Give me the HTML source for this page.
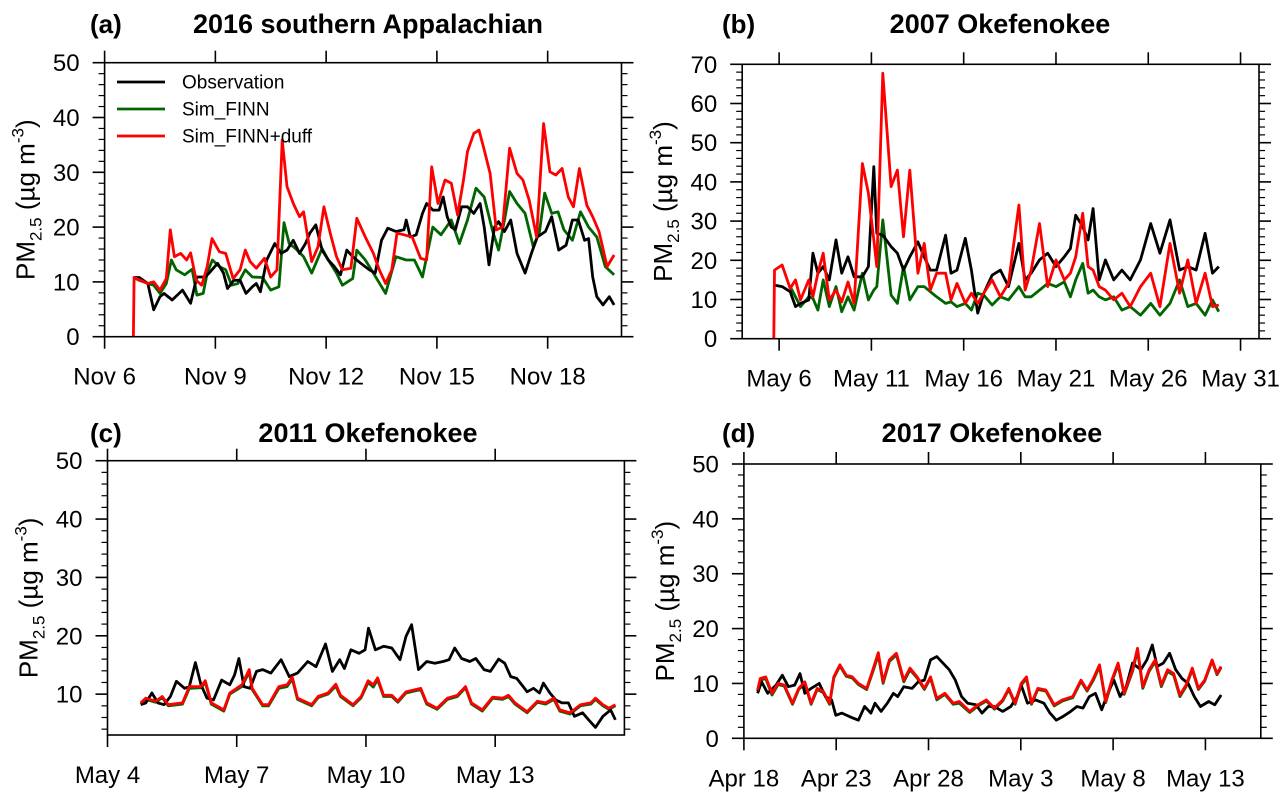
<!DOCTYPE html>
<html><head><meta charset="utf-8"><style>
html,body{margin:0;padding:0;background:#fff;}
svg{display:block;font-family:"Liberation Sans",sans-serif;}
</style></head><body>
<svg id="chart" width="1283" height="801" viewBox="0 0 1283 801" xmlns="http://www.w3.org/2000/svg"></svg>
<script>
// ---- Panel (a) 2016 southern Appalachian (x = day of November) ----
const aObsX=[6.78,6.94,7.17,7.33,7.5,7.61,7.83,8.11,8.33,8.5,8.72,8.83,9.06,9.22,9.33,9.5,9.67,9.83,10.0,10.11,10.22,10.39,10.61,10.78,10.94,11.11,11.28,11.44,11.56,11.72,11.89,12.06,12.22,12.39,12.56,12.72,12.94,13.17,13.33,13.5,13.67,13.89,14.11,14.17,14.28,14.44,14.61,14.72,14.89,15.06,15.17,15.28,15.39,15.5,15.67,15.83,16.0,16.17,16.28,16.41,16.56,16.67,16.83,17.0,17.17,17.39,17.56,17.72,17.94,18.11,18.3,18.5,18.67,18.83,19.0,19.11,19.22,19.33,19.5,19.67,19.8];
const aObs=[10.8,10.8,9.7,4.9,7.3,7.9,6.7,8.5,6.1,10.9,10.9,11.6,13.4,11.6,8.8,10.3,10.3,7.9,9.1,9.7,8.2,14,17,15.2,15.8,17.6,15.2,17,18.9,20.4,15.8,14,12.8,11.3,15.8,14.6,13.4,12.2,11.6,17.6,19.8,19.2,19.5,21.3,18.2,18.6,22.5,24.3,23.1,23.1,25.5,21.9,20,19.5,23.7,23.7,22.5,24.3,20,13.1,20,21,19.2,21.3,15.2,11.6,15.2,18.2,19.2,21.9,15.8,16.7,21.3,21.3,17.6,17.9,10.9,7.3,5.8,7.3,5.8];
const aFinnX=[6.78,6.94,7.17,7.33,7.5,7.67,7.81,7.94,8.17,8.37,8.5,8.67,8.78,8.92,9.11,9.28,9.44,9.61,9.81,10.0,10.28,10.5,10.72,10.86,11.0,11.17,11.39,11.61,11.89,12.06,12.28,12.44,12.72,12.83,13.06,13.28,13.61,13.89,14.17,14.39,14.61,14.89,15.11,15.39,15.61,15.83,16.06,16.28,16.5,16.67,16.83,16.97,17.17,17.39,17.61,17.78,17.92,18.11,18.28,18.44,18.67,18.89,19.11,19.33,19.56,19.8];
const aFinn=[10.8,10.3,9.7,9.4,7.9,9.7,14,12.2,11.3,12.3,7.6,7.9,11.6,14,12.8,12.2,9.4,9.7,12.2,10.9,10.8,8.5,9.1,20.8,17,16.1,14.6,11.6,16.1,14,11.6,9.4,10.6,15.8,14,11.6,7.9,14.6,14,14,10.9,20,18.6,21.3,17,21.3,27.1,25.5,19.5,15.8,21.3,26.5,24.3,22.5,16.4,19.2,26.2,22.5,22.8,19.5,17.6,22.8,20,18.2,12.8,11.3];
const aDuffX=[6.78,6.8,6.97,7.17,7.33,7.5,7.67,7.78,7.89,8.06,8.22,8.33,8.48,8.63,8.78,8.91,9.11,9.28,9.48,9.67,9.81,9.94,10.11,10.33,10.5,10.67,10.81,10.94,11.11,11.28,11.39,11.61,11.78,11.94,12.11,12.28,12.44,12.67,12.83,13.06,13.28,13.44,13.61,13.78,13.92,14.11,14.33,14.56,14.72,14.86,15.03,15.22,15.39,15.56,15.72,15.83,16.0,16.14,16.28,16.44,16.61,16.78,16.97,17.17,17.33,17.5,17.7,17.89,18.06,18.22,18.39,18.56,18.7,18.86,19.06,19.22,19.39,19.61,19.8];
const aDuff=[0,10.8,10.3,9.7,10,8.5,10.6,19.5,14.6,15.2,14,15.3,10.3,9.4,12.8,17.9,15.5,15.2,10.6,12.2,15.8,13.7,12.5,14.3,10.9,12.2,35.9,27.4,24.3,21.9,22.8,13.7,16.4,23.7,18.9,14.6,12.2,12.5,21.6,18.2,15.2,12.2,9.7,12.2,18.9,18.6,18.2,14.3,14,31,24.3,28.6,28,22.2,28.6,33.8,37.1,37.7,34.1,29.8,19.5,20,34.4,29.8,28.6,24.9,18.2,38.9,30.1,29.5,30.7,25.5,23.7,30.7,24,21.9,19.2,12.8,14.9];
// ---- Panel (b) 2007 Okefenokee (x = day of May) ----
const bObsX=[5.71,6.16,6.6,6.89,7.16,7.61,7.83,8.1,8.39,8.72,9.08,9.39,9.73,10.06,10.51,10.84,11.13,11.29,11.62,12.07,12.41,12.74,13.08,13.52,13.86,14.19,14.53,15.02,15.31,15.64,16.09,16.42,16.76,17.09,17.54,17.99,18.43,18.99,19.33,19.66,20.11,20.55,21.0,21.45,21.78,22.07,22.45,22.74,23.01,23.34,23.68,24.13,24.57,25.02,25.58,26.13,26.63,27.18,27.7,28.14,28.59,29.08,29.48,29.82];
const bObs=[13.7,13.3,12,8.2,9,9.9,21.8,16.7,18.4,15,25.2,16.7,20.9,15.8,15.8,18.4,43.9,26.9,26.4,23.5,21.8,17.5,20.9,24.7,20.9,17.5,17.5,26.4,16.7,17.5,25.6,17.5,6.5,11.6,16.2,17.5,13.3,24.3,15,16.7,20.1,21.8,18.4,20.9,23,31.5,28.6,25.2,33.2,15,20.1,15,17.5,15,20.1,29.4,21.8,30.3,17.5,18.4,17.5,26.9,16.7,18.4];
const bFinnX=[6.6,6.89,7.16,7.61,7.83,8.1,8.39,8.72,9.08,9.39,9.73,10.06,10.51,10.84,11.13,11.29,11.62,12.07,12.41,12.74,13.08,13.52,13.86,14.19,14.53,15.02,15.31,15.64,16.09,16.42,16.76,17.09,17.54,17.99,18.43,18.99,19.33,19.66,20.11,20.55,21.0,21.45,21.78,22.07,22.45,22.74,23.01,23.34,23.68,24.13,24.57,25.02,25.58,26.13,26.63,27.18,27.7,28.14,28.59,29.08,29.48,29.82];
const bFinn=[13.3,10.7,8.2,10.7,10.3,7.3,15,8.2,13.3,6.9,10.7,7.3,16.7,9.9,12.4,13.3,30.3,11.1,9,18.4,9.9,13.3,13.3,12,10.7,9,9.4,8.2,9,7.3,11.6,11.1,8.6,10.7,9.9,13.3,10.7,10.7,12.4,14.1,13.3,14.5,10.7,15,19.2,11.6,12.4,10.7,9.9,10.7,7.3,8.2,6,9,6,9,15,8.2,9,6,9.9,6.9];
const bDuffX=[5.71,5.75,6.16,6.6,6.89,7.16,7.61,7.83,8.1,8.39,8.72,9.08,9.39,9.73,10.06,10.51,10.84,11.13,11.29,11.62,12.07,12.41,12.74,13.08,13.52,13.86,14.19,14.53,15.02,15.31,15.64,16.09,16.42,16.76,17.09,17.54,17.99,18.43,18.99,19.33,19.66,20.11,20.55,21.0,21.45,21.78,22.07,22.45,22.74,23.01,23.34,23.68,24.13,24.57,25.02,25.58,26.13,26.63,27.18,27.7,28.14,28.59,29.08,29.48,29.82];
const bDuff=[0,17.5,18.8,12.8,15,9.9,15,10.7,16.7,21.8,9.9,12.4,9.4,14.5,9,44.7,37.1,25.2,18.4,67.7,38.8,43,26,43,16.7,24.3,12.4,16.7,16.7,9.9,14.1,9,11.6,9,11.6,15,10.7,14.1,34.1,12.4,17.5,29.4,13.3,20.1,15,16.7,20.9,32,18.4,17.5,13.3,12.4,9.9,11.6,8.2,13.3,16.7,8.2,24.3,11.6,20.1,9,16.7,8.2,8.6];
// ---- Panel (c) 2011 Okefenokee (x = day of May) ----
const cObsX=[4.77,4.89,5.03,5.17,5.31,5.46,5.6,5.79,5.9,6.04,6.17,6.31,6.46,6.65,6.84,6.95,7.05,7.17,7.31,7.46,7.6,7.79,8.03,8.22,8.41,8.65,8.84,9.06,9.22,9.39,9.5,9.65,9.84,9.98,10.06,10.22,10.41,10.6,10.79,10.93,11.06,11.22,11.41,11.6,11.79,11.93,12.06,12.22,12.41,12.55,12.74,12.89,13.08,13.22,13.36,13.5,13.65,13.74,13.89,14.03,14.12,14.27,14.41,14.55,14.7,14.84,15.03,15.17,15.33,15.5,15.68,15.79];
const cObs=[8.2,8.5,10.2,8.5,8.2,9.6,12.2,11,11.3,15.4,11.6,9.3,9,12.4,11.6,13.3,16.1,11.3,11,13.9,14.2,13.6,15.9,13,13.6,15.6,14.7,18.6,13.9,15.9,14.4,17.6,17,17.6,21.3,17.6,18.2,17.9,15.9,19.9,21.9,14.2,15.6,15.3,15.6,15.9,17.9,16.1,15.6,16.1,14.2,13.9,16,15.3,13,12.7,11.3,10.4,11,10.2,11.9,10.2,9,8.5,8.5,6.2,6.8,5.6,4.3,6.2,7.3,5.6];
const cFinnX=[4.77,4.89,5.12,5.27,5.41,5.74,5.9,6.17,6.27,6.41,6.7,6.84,7.12,7.29,7.36,7.6,7.74,7.98,8.17,8.29,8.41,8.74,8.89,9.12,9.3,9.41,9.7,9.89,10.05,10.17,10.27,10.41,10.6,10.74,10.93,11.27,11.41,11.65,11.89,12.12,12.31,12.45,12.7,12.94,13.17,13.31,13.46,13.74,13.98,14.17,14.36,14.5,14.74,14.98,15.22,15.33,15.5,15.64,15.79];
const cFinn=[8.3,9.1,8.6,9.4,8.0,8.3,11.0,11.1,12.0,8.3,7.1,10.0,11.3,13.8,10.8,8.0,8.0,11.0,11.3,12.6,9.1,8.0,9.4,10.0,11.4,9.6,8.0,9.4,12.0,11.2,12.5,9.6,9.6,8.6,10.2,10.8,8.3,7.4,9.1,9.6,11.1,8.3,7.1,9.3,9.1,9.6,8.3,6.8,8.6,8.3,9.1,7.1,6.6,8.0,8.3,9.1,8.0,7.4,8.0];
const cDuffX=[4.77,4.89,5.12,5.27,5.41,5.74,5.9,6.17,6.27,6.41,6.7,6.84,7.12,7.29,7.36,7.6,7.74,7.98,8.17,8.29,8.41,8.74,8.89,9.12,9.3,9.41,9.7,9.89,10.05,10.17,10.27,10.41,10.6,10.74,10.93,11.27,11.41,11.65,11.89,12.12,12.31,12.45,12.7,12.94,13.17,13.31,13.46,13.74,13.98,14.17,14.36,14.5,14.74,14.98,15.22,15.33,15.5,15.64,15.79];
const cDuff=[8.5,9.3,8.8,9.6,8.2,8.5,11.3,11.3,12.3,8.5,7.3,10.2,11.6,14.2,11,8.2,8.2,11.3,11.6,12.9,9.3,8.2,9.6,10.2,11.7,9.8,8.2,9.6,12.3,11.6,12.8,9.8,9.8,8.8,10.4,11,8.5,7.6,9.3,9.8,11.3,8.5,7.3,9.5,9.3,9.8,8.5,7,8.8,8.5,9.3,7.3,6.8,8.2,8.5,9.3,8.2,7.6,8.2];
// ---- Panel (d) 2017 Okefenokee (x = days since Apr 18) ----
const dObsX=[0.74,0.96,1.29,1.74,2.08,2.41,2.75,3.04,3.3,3.64,4.08,4.42,4.75,4.98,5.31,5.76,6.2,6.54,6.88,7.1,7.43,7.77,8.1,8.33,8.66,9.11,9.44,9.78,10.11,10.45,10.78,11.12,11.45,11.79,12.12,12.57,12.9,13.24,13.57,14.02,14.46,14.8,15.02,15.36,15.8,16.25,16.58,16.92,17.25,17.7,18.04,18.37,18.71,19.04,19.38,19.71,20.04,20.38,20.71,21.05,21.5,21.83,22.12,22.39,22.72,23.06,23.39,23.73,24.06,24.4,24.73,25.18,25.51,25.85];
const dObs=[8.2,10.3,8.2,9.7,11.5,9.4,9.7,11.8,8.2,9.1,10,7.6,7,4.2,4.6,3.9,3.3,5.8,4.6,6.4,4.9,6.4,8.2,7.6,9.4,9.1,10.3,10.6,14.3,14.9,13.7,12.5,10.6,7.6,6.4,6.1,4.6,5.8,5.8,4.9,5.8,7.6,9.7,6.4,7,6.4,4.6,3.3,3.9,4.9,5.8,5.5,7.6,8.2,5.2,8.2,10.6,7.6,9.4,13.7,12.5,14.3,17,13.1,13.7,15.5,12.5,10.9,10,7.6,5.8,6.7,6.1,7.9];
const dFinnX=[0.74,0.89,1.18,1.52,1.85,2.19,2.63,2.97,3.3,3.64,3.97,4.31,4.64,4.87,5.2,5.54,5.87,6.2,6.65,6.99,7.28,7.54,7.88,8.26,8.66,9.0,9.38,9.78,10.11,10.45,10.89,11.34,11.67,12.23,12.68,13.13,13.57,14.02,14.35,14.69,15.02,15.31,15.58,15.92,16.36,16.81,17.25,17.81,18.26,18.59,18.93,19.26,19.6,19.93,20.27,20.6,21.05,21.32,21.61,21.95,22.28,22.61,22.95,23.28,23.62,23.95,24.29,24.62,24.96,25.36,25.63,25.85];
const dFinn=[8.6,10.6,10.9,7.9,9.8,9.5,6.2,8.9,10.0,6.2,8.9,8.3,6.2,11.0,13.2,11.3,11.0,9.8,8.9,12.2,15.2,10.0,14.0,15.2,10.3,12.5,11.0,8.9,11.0,7.0,8.0,6.2,6.4,4.7,5.9,6.8,5.3,6.8,8.9,6.2,9.7,10.9,6.2,8.9,8.6,5.9,6.8,7.4,10.4,8.6,10.6,13.1,6.5,10.3,13.4,8.0,12.2,16.0,9.1,12.2,14.0,9.4,12.2,11.5,7.6,9.4,12.5,8.9,10.4,14.1,11.6,12.9];
const dDuffX=[0.74,0.89,1.18,1.52,1.85,2.19,2.63,2.97,3.3,3.64,3.97,4.31,4.64,4.87,5.2,5.54,5.87,6.2,6.65,6.99,7.28,7.54,7.88,8.26,8.66,9.0,9.38,9.78,10.11,10.45,10.89,11.34,11.67,12.23,12.68,13.13,13.57,14.02,14.35,14.69,15.02,15.31,15.58,15.92,16.36,16.81,17.25,17.81,18.26,18.59,18.93,19.26,19.6,19.93,20.27,20.6,21.05,21.32,21.61,21.95,22.28,22.61,22.95,23.28,23.62,23.95,24.29,24.62,24.96,25.36,25.63,25.85];
const dDuff=[8.8,10.9,11.2,8.2,10,9.7,6.4,9.1,10.3,6.4,9.1,8.5,6.4,11.2,13.4,11.5,11.2,10,9.1,12.5,15.6,10.3,14.3,15.5,10.6,12.8,11.2,9.1,11.2,7.3,8.2,6.4,6.7,4.9,6.1,7,5.5,7,9.1,6.4,10,11.2,6.4,9.1,8.8,6.1,7,7.6,10.6,8.8,10.9,13.4,6.7,10.6,13.7,8.2,12.5,16.4,9.4,12.5,14.3,9.7,12.5,11.8,7.9,9.7,12.8,9.1,10.6,14.3,11.8,13.1];
// ---- axis tick labels ----
const aTickVals=[6,9,12,15,18], aTickLabels=["Nov 6","Nov 9","Nov 12","Nov 15","Nov 18"];
const bTickVals=[6,11,16,21,26,31], bTickLabels=["May 6","May 11","May 16","May 21","May 26","May 31"];
const cTickVals=[4,7,10,13], cTickLabels=["May 4","May 7","May 10","May 13"];
const dTickVals=[0,5,10,15,20,25], dTickLabels=["Apr 18","Apr 23","Apr 28","May 3","May 8","May 13"];
const yTicks50=[0,10,20,30,40,50], yTicks70=[0,10,20,30,40,50,60,70], yTicksC=[10,20,30,40,50];

const NS="http://www.w3.org/2000/svg";
const svg=document.getElementById('chart');
function mk(tag,attrs,parent){const e=document.createElementNS(NS,tag);for(const k in attrs)e.setAttribute(k,attrs[k]);(parent||svg).appendChild(e);return e;}

function panel(p){
  const g=mk('g',{});
  
  
  const sx=v=>p.x0+(v-p.xmin)/(p.xmax-p.xmin)*(p.x1-p.x0);
  const sy=v=>p.y1-(v-p.ymin)/(p.ymax-p.ymin)*(p.y1-p.y0);
  for(let v=Math.ceil(p.ymin/2)*2; v<=p.ymax; v+=2){
    if(v%10===0) continue;
    const y=sy(v);
    mk('line',{x1:p.x0-6,x2:p.x0,y1:y,y2:y,stroke:'#000','stroke-width':1.2},g);
    mk('line',{x1:p.x1,x2:p.x1+6,y1:y,y2:y,stroke:'#000','stroke-width':1.2},g);
  }
  p.yt.forEach(v=>{
    const y=sy(v);
    mk('line',{x1:p.x0-12,x2:p.x0,y1:y,y2:y,stroke:'#000','stroke-width':1.6},g);
    mk('line',{x1:p.x1,x2:p.x1+12,y1:y,y2:y,stroke:'#000','stroke-width':1.6},g);
    const t=mk('text',{x:p.x0-25,y:y+8.5,'text-anchor':'end','font-size':24},g);
    t.textContent=v;
    
    
  });
  p.xt.forEach((v,i)=>{
    const x=sx(v);
    mk('line',{x1:x,x2:x,y1:p.y1,y2:p.y1+12,stroke:'#000','stroke-width':1.6},g);
    mk('line',{x1:x,x2:x,y1:p.y0-12,y2:p.y0,stroke:'#000','stroke-width':1.6},g);
    const t=mk('text',{x:x,y:p.y1+48,'text-anchor':'middle','font-size':24},g);
    t.textContent=p.xl[i];
    
    
  });
  const series=[[p.fx,p.f,'#006400','sim-finn-line'],[p.ox,p.o,'#000','observation-line'],[p.dx,p.d,'#ff0000','sim-finn-duff-line']];
  series.forEach(s=>{
    const pts=s[0].map((xv,i)=>sx(xv).toFixed(1)+','+sy(s[1][i]).toFixed(1)).join(' ');
    const pl=mk('polyline',{points:pts,fill:'none',stroke:s[2],'stroke-width':2.8,'stroke-linejoin':'round'},g);
    
    
  });
  const fr=mk('rect',{x:p.x0,y:p.y0,width:p.x1-p.x0,height:p.y1-p.y0,fill:'none',stroke:'#000','stroke-width':1.6},g);
  
  
  const cy=(p.y0+p.y1)/2, tx=p.x0-70;
  const yt=mk('text',{x:tx,y:cy,'text-anchor':'middle','font-size':26,transform:`rotate(-90 ${tx} ${cy})`},g);
  
  
  yt.innerHTML='PM<tspan font-size="17" dy="7">2.5</tspan><tspan dy="-7"> (µg m</tspan><tspan font-size="17" dy="-11">-3</tspan><tspan dy="11">)</tspan>';
  const lab=mk('text',{x:p.labX,y:p.titleY,'font-size':26,'font-weight':'bold'},g);
  lab.textContent=p.lab;
  
  
  const ti=mk('text',{x:p.titleX,y:p.titleY,'font-size':27,'font-weight':'bold','text-anchor':'middle'},g);
  ti.textContent=p.title;
  
  
}

panel({id:'a',x0:104.6,x1:621.5,y0:62.7,y1:336.7,xmin:6,xmax:20,ymin:0,ymax:50,yt:yTicks50,xt:aTickVals,xl:aTickLabels,
  ox:aObsX,o:aObs,fx:aFinnX,f:aFinn,dx:aDuffX,d:aDuff,lab:'(a)',labX:90,titleX:368,titleY:33,title:'2016 southern Appalachian'});
panel({id:'b',x0:742.2,x1:1259,y0:64.3,y1:338.7,xmin:4,xmax:32,ymin:0,ymax:70,yt:yTicks70,xt:bTickVals,xl:bTickLabels,
  ox:bObsX,o:bObs,fx:bFinnX,f:bFinn,dx:bDuffX,d:bDuff,lab:'(b)',labX:722,titleX:1000,titleY:33,title:'2007 Okefenokee'});
panel({id:'c',x0:107.5,x1:624.4,y0:460.7,y1:735,xmin:4,xmax:16,ymin:3,ymax:50,yt:yTicksC,xt:cTickVals,xl:cTickLabels,
  ox:cObsX,o:cObs,fx:cFinnX,f:cFinn,dx:cDuffX,d:cDuff,lab:'(c)',labX:90,titleX:368,titleY:442,title:'2011 Okefenokee'});
panel({id:'d',x0:743.9,x1:1260.8,y0:464,y1:738.3,xmin:0,xmax:28,ymin:0,ymax:50,yt:yTicks50,xt:dTickVals,xl:dTickLabels,
  ox:dObsX,o:dObs,fx:dFinnX,f:dFinn,dx:dDuffX,d:dDuff,lab:'(d)',labX:722,titleX:992,titleY:442,title:'2017 Okefenokee'});

const legNames=['Observation','Sim_FINN','Sim_FINN+duff'], legColors=['#000','#006400','#ff0000'];
legNames.forEach((n,i)=>{
  const y=82+i*27;
  const lg=mk('g',{});
  
  
  mk('line',{x1:117,x2:165,y1:y,y2:y,stroke:legColors[i],'stroke-width':2.8},lg);
  const t=mk('text',{x:182,y:y+6.5,'font-size':19},lg);
  t.textContent=n;
});
</script>
</body></html>
